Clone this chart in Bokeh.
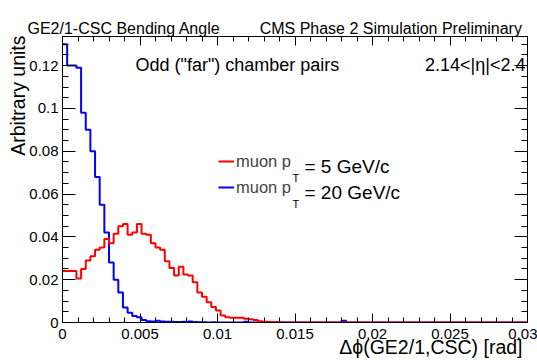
import numpy as np
from bokeh.plotting import figure
from bokeh.models import (Range1d, LinearAxis, FixedTicker, CustomJSTickFormatter,
                          Label, Legend, LegendItem, Title)
from bokeh.embed import file_html
from bokeh.resources import INLINE

# ---- data (histograms, 100 bins of 0.0003 rad from 0 to 0.03) ----
bin_width = 0.0003
n_bins = 100

pt5_values = [
    0.024, 0.024, 0.024, 0.0205, 0.025, 0.029, 0.031, 0.034, 0.035, 0.039,
    0.037, 0.0414, 0.045, 0.046, 0.041, 0.042, 0.046, 0.0415, 0.041, 0.037,
    0.035, 0.034, 0.0286, 0.0255, 0.022, 0.026, 0.0224, 0.022, 0.0188, 0.014,
    0.012, 0.0095, 0.0072, 0.0056, 0.0033, 0.0025, 0.0022, 0.0022, 0.0022, 0.0017,
    0.0015, 0.0012, 0.0006, 0.0003, 0.0002, 0.0001, 0.0002, 0.0, 0.0, 0.0,
    0.0, 0.0, 0.0, 0.0, 0.0, 0.0, 0.0, 0.0, 0.0, 0.0,
    0.0, 0.0, 0.0, 0.0, 0.0, 0.0, 0.0, 0.0, 0.0, 0.0,
    0.0, 0.0, 0.0, 0.0, 0.0, 0.0, 0.0, 0.0, 0.0, 0.0,
    0.0, 0.0, 0.0, 0.0, 0.0, 0.0, 0.0, 0.0, 0.0, 0.0,
    0.0, 0.0, 0.0, 0.0, 0.0, 0.0, 0.0, 0.0, 0.0, 0.0,
]

pt20_values = [
    0.130, 0.120, 0.120, 0.119, 0.098, 0.090, 0.080, 0.068, 0.055, 0.042,
    0.028, 0.020, 0.014, 0.007, 0.0045, 0.003, 0.0025, 0.0012, 0.0006, 0.0005,
    0.0008, 0.0005, 0.0004, 0.0003, 0.0002, 0.0002, 0.0003, 0.0005, 0.0002, 0.0001,
    0.0001, 0.0, 0.0001, 0.0, 0.0, 0.0, 0.0, 0.0, 0.0, 0.0003,
    0.0, 0.0, 0.0, 0.0, 0.0, 0.0, 0.0, 0.0, 0.0, 0.0,
    0.0, 0.0, 0.0, 0.0, 0.0, 0.0, 0.0, 0.0, 0.0, 0.0,
    0.0008, 0.0, 0.0, 0.0, 0.0, 0.0, 0.0, 0.0, 0.0, 0.0,
    0.0, 0.0, 0.0, 0.0, 0.0, 0.0, 0.0, 0.0, 0.0, 0.0,
    0.0, 0.0, 0.0, 0.0, 0.0, 0.0, 0.0, 0.0, 0.0, 0.0,
    0.0, 0.0, 0.0, 0.0, 0.0, 0.0, 0.0, 0.0, 0.0, 0.0,
]

x_ticks = [0, 0.005, 0.01, 0.015, 0.02, 0.025, 0.03]
y_ticks = [0, 0.02, 0.04, 0.06, 0.08, 0.1, 0.12]

edges = [round(i * bin_width, 6) for i in range(n_bins + 1)]

FONT = "Liberation Sans"

p = figure(width=537, height=360, x_range=Range1d(0, 0.03), y_range=Range1d(0, 0.1336),
           output_backend="svg", toolbar_location=None,
           min_border_left=62, min_border_right=10, min_border_top=36, min_border_bottom=38,
           x_axis_location=None, y_axis_location=None)
p.xgrid.visible = False
p.ygrid.visible = False
p.outline_line_color = "black"
p.outline_line_width = 1
p.background_fill_color = "white"
p.border_fill_color = "white"

x_minor = [round(v, 4) for v in np.arange(0, 0.03001, 0.001)]
y_minor = [round(v, 4) for v in np.arange(0, 0.1336, 0.005)]
fmt = CustomJSTickFormatter(code="return tick.toString();")
blank_fmt = CustomJSTickFormatter(code="return '';")

def make_axis(kind, show_labels, standoff):
    if kind == "x":
        ax = LinearAxis(ticker=FixedTicker(ticks=x_ticks, minor_ticks=x_minor))
        ax.major_tick_in = 9
        ax.minor_tick_in = 5
    else:
        ax = LinearAxis(ticker=FixedTicker(ticks=y_ticks, minor_ticks=y_minor))
        ax.major_tick_in = 13
        ax.minor_tick_in = 6
    ax.major_label_standoff = standoff
    ax.major_tick_out = 0
    ax.minor_tick_out = 0
    ax.axis_line_color = "black"
    ax.major_tick_line_color = "black"
    ax.minor_tick_line_color = "black"
    ax.major_label_text_font = FONT
    ax.major_label_text_color = "black"
    if show_labels:
        ax.formatter = fmt
        ax.major_label_text_font_size = "15px"
    else:
        ax.formatter = blank_fmt
        ax.major_label_text_font_size = "0px"
    return ax

p.add_layout(make_axis("x", True, 6), "below")
p.add_layout(make_axis("x", False, 15), "above")
p.add_layout(make_axis("y", True, 4), "left")
p.add_layout(make_axis("y", False, 0), "right")

def title(text, side, align, offset, valign, standoff, size):
    t = Title(text=text, align=align, offset=offset, vertical_align=valign,
              standoff=standoff, text_font=FONT, text_font_size=size,
              text_font_style="normal", text_color="black")
    p.add_layout(t, side)

NB = "\u00a0"
title("GE2/1-CSC Bending Angle" + NB * 9 + "CMS Phase 2 Simulation Preliminary",
      "above", "left", -35, "bottom", 0, "16px")
title("Arbitrary units", "left", "right", -1, "bottom", -4, "19.5px")
title("\u0394\u03d5(GE2/1,CSC) [rad]", "below", "right", 5, "bottom", -15, "19.5px")

r20 = p.step(x=edges, y=pt20_values + [pt20_values[-1]], mode="after",
             line_color="#0000ff", line_width=2)
r5 = p.step(x=edges, y=pt5_values + [pt5_values[-1]], mode="after",
            line_color="#ff0000", line_width=2)

legend = Legend(items=[LegendItem(label="muon p", renderers=[r5]),
                       LegendItem(label="muon p", renderers=[r20])],
                location=(156, 125), orientation="vertical",
                glyph_width=16, glyph_height=20, label_height=20, spacing=6,
                label_standoff=2, padding=0, margin=0,
                border_line_color=None, background_fill_color=None, background_fill_alpha=0,
                label_text_font=FONT, label_text_font_size="16.5px")
p.add_layout(legend)

def lab(text, x, y, size, align="left"):
    p.add_layout(Label(text=text, x=x, y=y, x_units="screen", y_units="screen",
                       text_font=FONT, text_font_size=size, text_color="black",
                       text_align=align, text_baseline="alphabetic"))

# subscripts and the rest of the legend entries
lab("T", 230, 145, "11px")
lab("= 5 GeV/c", 242, 156, "19px")
lab("T", 230, 119, "11px")
lab("= 20 GeV/c", 242, 130, "19px")

lab("Odd (\"far\") chamber pairs", 73, 258, "18px")
lab("2.14<|\u03b7|<2.4", 463, 258, "18px", align="right")

open("out.html", "w").write(file_html(p, INLINE))
